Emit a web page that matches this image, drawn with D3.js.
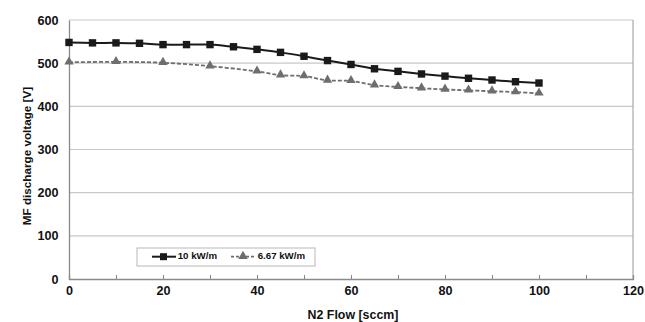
<!DOCTYPE html>
<html><head><meta charset="utf-8">
<script src="https://cdn.jsdelivr.net/npm/d3@7"></script>
<style>body{margin:0;background:#fff}svg{display:block}text{font-family:Arial,"Liberation Sans",sans-serif;font-weight:bold;fill:#111}</style>
</head><body><svg id="c" width="645" height="322"></svg>
<script>
const flowA = [0,5,10,15,20,25,30,35,40,45,50,55,60,65,70,75,80,85,90,95,100];
const volt10 = [548,547,547,546,543,543,543,538,532,525,516,506,497,487,481,475,470,465,461,457,454];
const flowB = [0,10,20,30,40,45,50,55,60,65,70,75,80,85,90,95,100];
const volt667 = [502,503,501,493,481,472,470,460,459,449,445,442,439,437,435,433,430];
const seriesNames = ["10 kW/m","6.67 kW/m"];
const xTicks = [0,20,40,60,80,100,120];
const yTicks = [0,100,200,300,400,500,600];

const svg = d3.select("#c");
const L=69,R=633,T=20,B=279;
const x = d3.scaleLinear().domain([0,120]).range([L,R]);
const y = d3.scaleLinear().domain([0,600]).range([B,T]);

svg.append("g").selectAll("line").data(yTicks.filter(d=>d>0)).join("line")
  .attr("x1",L).attr("x2",R).attr("y1",d=>y(d)).attr("y2",d=>y(d))
  .attr("stroke","#c8c8c8").attr("stroke-width",1.2);
svg.append("line").attr("x1",R).attr("x2",R).attr("y1",T).attr("y2",B).attr("stroke","#a8a8a8").attr("stroke-width",1.2);

const yAxis = svg.append("g").attr("transform",`translate(${L},0)`)
  .call(d3.axisLeft(y).tickValues(yTicks).tickSize(0).tickPadding(10.5));
const xAxis = svg.append("g").attr("transform",`translate(0,${B})`)
  .call(d3.axisBottom(x).tickValues(d3.range(0,121,10)).tickSize(-4).tickPadding(12)
    .tickFormat(d=>xTicks.includes(d)?d:""));
[yAxis,xAxis].forEach(a=>{
  a.select(".domain").attr("stroke","#8a8a8a").attr("stroke-width",1.3);
  a.selectAll(".tick line").attr("stroke","#8a8a8a");
  a.selectAll("text").attr("font-size","12.6px").attr("font-weight","bold").attr("fill","#111")
    .attr("font-family","Arial, 'Liberation Sans', sans-serif");
});
xAxis.selectAll("text").attr("dy","0.35em");

svg.append("text").attr("x",353).attr("y",316).attr("text-anchor","middle")
  .attr("dominant-baseline","middle").attr("font-size","12.4px").text("N2 Flow [sccm]");
svg.append("text").attr("transform",`translate(28,156) rotate(-90)`).attr("text-anchor","middle")
  .attr("dominant-baseline","middle").attr("font-size","11.7px").text("MF discharge voltage [V]");

const line = d3.line().curve(d3.curveCatmullRom.alpha(0.5)).x(d=>x(d[0])).y(d=>y(d[1]));
const dA = flowA.map((f,i)=>[f,volt10[i]]);
const dB = flowB.map((f,i)=>[f,volt667[i]]);

svg.append("path").datum(dB).attr("d",line).attr("fill","none").attr("stroke","#6e6e6e")
  .attr("stroke-width",1.8).attr("stroke-dasharray","4,2");
svg.append("path").datum(dA).attr("d",line).attr("fill","none").attr("stroke","#1a1a1a")
  .attr("stroke-width",2);

const tri = d3.symbol().type(d3.symbolTriangle).size(38);
svg.append("g").selectAll("path").data(dB).join("path").attr("d",tri)
  .attr("transform",d=>`translate(${x(d[0])},${y(d[1])-0.5})`).attr("fill","#6e6e6e");
svg.append("g").selectAll("rect").data(dA).join("rect")
  .attr("x",d=>x(d[0])-3.7).attr("y",d=>y(d[1])-3.7).attr("width",7.4).attr("height",7.4).attr("fill","#1a1a1a");

const lg = svg.append("g");
lg.append("rect").attr("x",137).attr("y",248).attr("width",178).attr("height",18)
  .attr("fill","#fff").attr("stroke","#b8b8b8").attr("stroke-width",1);
const ly=256.7;
lg.append("line").attr("x1",152).attr("x2",176).attr("y1",ly).attr("y2",ly).attr("stroke","#1a1a1a").attr("stroke-width",2);
lg.append("rect").attr("x",160).attr("y",ly-3.5).attr("width",7).attr("height",7).attr("fill","#1a1a1a");
lg.append("text").attr("x",177.7).attr("y",ly).attr("dominant-baseline","middle").attr("font-size","9.7px").text(seriesNames[0]);
lg.append("line").attr("x1",231).attr("x2",255).attr("y1",ly).attr("y2",ly).attr("stroke","#6e6e6e").attr("stroke-width",1.8).attr("stroke-dasharray","3,2");
lg.append("path").attr("d",tri).attr("transform",`translate(243,${ly-0.5})`).attr("fill","#6e6e6e");
lg.append("text").attr("x",257.7).attr("y",ly).attr("dominant-baseline","middle").attr("font-size","9.7px").text(seriesNames[1]);
</script></body></html>
